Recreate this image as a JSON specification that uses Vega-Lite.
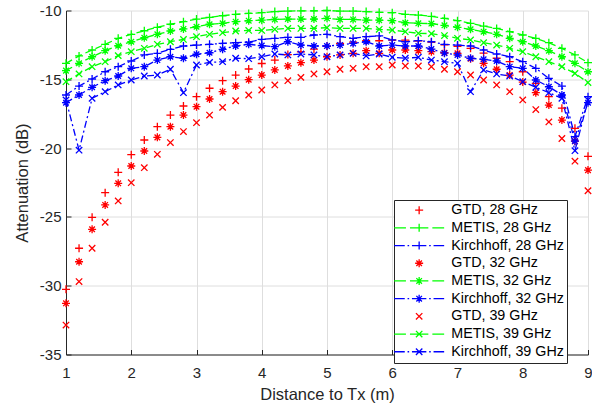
{
  "$schema": "https://vega.github.io/schema/vega-lite/v6.json",
  "width": 522,
  "height": 344,
  "autosize": {"type": "none"},
  "padding": {"left": 66, "top": 10.5, "right": 4, "bottom": 50.5},
  "background": "white",
  "config": {
    "view": {"stroke": null},
    "font": "Liberation Sans",
    "axis": {
      "grid": true,
      "gridColor": "#dedede",
      "gridWidth": 1,
      "domainColor": "#262626",
      "domainWidth": 1,
      "tickColor": "#262626",
      "tickSize": -5,
      "tickWidth": 1,
      "labelFlush": false,
      "labelFont": "Liberation Sans",
      "labelFontSize": 15,
      "labelColor": "#262626",
      "titleFont": "Liberation Sans",
      "titleFontSize": 16.5,
      "titleFontWeight": "normal",
      "titleColor": "#262626"
    }
  },
  "data": {
    "values": [
      {"s":"GTD, 28 GHz","d":1,"a":-30.26},{"s":"GTD, 28 GHz","d":1.2,"a":-27.28},{"s":"GTD, 28 GHz","d":1.4,"a":-25.03},{"s":"GTD, 28 GHz","d":1.6,"a":-23.24},{"s":"GTD, 28 GHz","d":1.8,"a":-21.76},{"s":"GTD, 28 GHz","d":2,"a":-20.48},{"s":"GTD, 28 GHz","d":2.2,"a":-19.41},{"s":"GTD, 28 GHz","d":2.4,"a":-18.44},{"s":"GTD, 28 GHz","d":2.6,"a":-17.6},{"s":"GTD, 28 GHz","d":2.8,"a":-16.94},{"s":"GTD, 28 GHz","d":3,"a":-16.26},{"s":"GTD, 28 GHz","d":3.2,"a":-15.65},{"s":"GTD, 28 GHz","d":3.4,"a":-15.1},{"s":"GTD, 28 GHz","d":3.6,"a":-14.69},{"s":"GTD, 28 GHz","d":3.8,"a":-14.25},{"s":"GTD, 28 GHz","d":4,"a":-13.85},{"s":"GTD, 28 GHz","d":4.2,"a":-13.6},{"s":"GTD, 28 GHz","d":4.4,"a":-13.2},{"s":"GTD, 28 GHz","d":4.6,"a":-13.0},{"s":"GTD, 28 GHz","d":4.8,"a":-12.8},{"s":"GTD, 28 GHz","d":5,"a":-12.6},{"s":"GTD, 28 GHz","d":5.2,"a":-12.4},{"s":"GTD, 28 GHz","d":5.4,"a":-12.3},{"s":"GTD, 28 GHz","d":5.6,"a":-12.2},{"s":"GTD, 28 GHz","d":5.8,"a":-12.2},{"s":"GTD, 28 GHz","d":6,"a":-12.15},{"s":"GTD, 28 GHz","d":6.2,"a":-12.15},{"s":"GTD, 28 GHz","d":6.4,"a":-12.2},{"s":"GTD, 28 GHz","d":6.6,"a":-12.3},{"s":"GTD, 28 GHz","d":6.8,"a":-12.5},{"s":"GTD, 28 GHz","d":7,"a":-12.6},{"s":"GTD, 28 GHz","d":7.2,"a":-12.75},{"s":"GTD, 28 GHz","d":7.4,"a":-13.1},{"s":"GTD, 28 GHz","d":7.6,"a":-13.47},{"s":"GTD, 28 GHz","d":7.8,"a":-13.72},{"s":"GTD, 28 GHz","d":8,"a":-14.45},{"s":"GTD, 28 GHz","d":8.2,"a":-15.3},{"s":"GTD, 28 GHz","d":8.4,"a":-16.26},{"s":"GTD, 28 GHz","d":8.6,"a":-17.1},{"s":"GTD, 28 GHz","d":8.8,"a":-18.56},{"s":"GTD, 28 GHz","d":9,"a":-20.6},
      {"s":"METIS, 28 GHz","d":1,"a":-13.84},{"s":"METIS, 28 GHz","d":1.2,"a":-13.3},{"s":"METIS, 28 GHz","d":1.4,"a":-12.87},{"s":"METIS, 28 GHz","d":1.6,"a":-12.46},{"s":"METIS, 28 GHz","d":1.8,"a":-12.02},{"s":"METIS, 28 GHz","d":2,"a":-11.73},{"s":"METIS, 28 GHz","d":2.2,"a":-11.47},{"s":"METIS, 28 GHz","d":2.4,"a":-11.22},{"s":"METIS, 28 GHz","d":2.6,"a":-11.0},{"s":"METIS, 28 GHz","d":2.8,"a":-10.81},{"s":"METIS, 28 GHz","d":3,"a":-10.62},{"s":"METIS, 28 GHz","d":3.2,"a":-10.5},{"s":"METIS, 28 GHz","d":3.4,"a":-10.38},{"s":"METIS, 28 GHz","d":3.6,"a":-10.28},{"s":"METIS, 28 GHz","d":3.8,"a":-10.21},{"s":"METIS, 28 GHz","d":4,"a":-10.16},{"s":"METIS, 28 GHz","d":4.2,"a":-10.08},{"s":"METIS, 28 GHz","d":4.4,"a":-10.04},{"s":"METIS, 28 GHz","d":4.6,"a":-10.02},{"s":"METIS, 28 GHz","d":4.8,"a":-10.02},{"s":"METIS, 28 GHz","d":5,"a":-10.0},{"s":"METIS, 28 GHz","d":5.2,"a":-10.04},{"s":"METIS, 28 GHz","d":5.4,"a":-10.04},{"s":"METIS, 28 GHz","d":5.6,"a":-10.08},{"s":"METIS, 28 GHz","d":5.8,"a":-10.13},{"s":"METIS, 28 GHz","d":6,"a":-10.16},{"s":"METIS, 28 GHz","d":6.2,"a":-10.28},{"s":"METIS, 28 GHz","d":6.4,"a":-10.33},{"s":"METIS, 28 GHz","d":6.6,"a":-10.42},{"s":"METIS, 28 GHz","d":6.8,"a":-10.57},{"s":"METIS, 28 GHz","d":7,"a":-10.74},{"s":"METIS, 28 GHz","d":7.2,"a":-10.93},{"s":"METIS, 28 GHz","d":7.4,"a":-11.13},{"s":"METIS, 28 GHz","d":7.6,"a":-11.3},{"s":"METIS, 28 GHz","d":7.8,"a":-11.54},{"s":"METIS, 28 GHz","d":8,"a":-11.78},{"s":"METIS, 28 GHz","d":8.2,"a":-12.02},{"s":"METIS, 28 GHz","d":8.4,"a":-12.34},{"s":"METIS, 28 GHz","d":8.6,"a":-12.75},{"s":"METIS, 28 GHz","d":8.8,"a":-13.23},{"s":"METIS, 28 GHz","d":9,"a":-13.79},
      {"s":"Kirchhoff, 28 GHz","d":1,"a":-16.14},{"s":"Kirchhoff, 28 GHz","d":1.2,"a":-15.49},{"s":"Kirchhoff, 28 GHz","d":1.4,"a":-14.98},{"s":"Kirchhoff, 28 GHz","d":1.6,"a":-14.45},{"s":"Kirchhoff, 28 GHz","d":1.8,"a":-14.08},{"s":"Kirchhoff, 28 GHz","d":2,"a":-13.67},{"s":"Kirchhoff, 28 GHz","d":2.2,"a":-13.23},{"s":"Kirchhoff, 28 GHz","d":2.4,"a":-13.11},{"s":"Kirchhoff, 28 GHz","d":2.6,"a":-12.82},{"s":"Kirchhoff, 28 GHz","d":2.8,"a":-12.58},{"s":"Kirchhoff, 28 GHz","d":3,"a":-12.51},{"s":"Kirchhoff, 28 GHz","d":3.2,"a":-12.46},{"s":"Kirchhoff, 28 GHz","d":3.4,"a":-12.39},{"s":"Kirchhoff, 28 GHz","d":3.6,"a":-12.34},{"s":"Kirchhoff, 28 GHz","d":3.8,"a":-12.3},{"s":"Kirchhoff, 28 GHz","d":4,"a":-12.1},{"s":"Kirchhoff, 28 GHz","d":4.2,"a":-12.02},{"s":"Kirchhoff, 28 GHz","d":4.4,"a":-11.95},{"s":"Kirchhoff, 28 GHz","d":4.6,"a":-11.95},{"s":"Kirchhoff, 28 GHz","d":4.8,"a":-11.78},{"s":"Kirchhoff, 28 GHz","d":5,"a":-11.73},{"s":"Kirchhoff, 28 GHz","d":5.2,"a":-11.9},{"s":"Kirchhoff, 28 GHz","d":5.4,"a":-12.02},{"s":"Kirchhoff, 28 GHz","d":5.6,"a":-11.9},{"s":"Kirchhoff, 28 GHz","d":5.8,"a":-11.85},{"s":"Kirchhoff, 28 GHz","d":6,"a":-12.14},{"s":"Kirchhoff, 28 GHz","d":6.2,"a":-12.27},{"s":"Kirchhoff, 28 GHz","d":6.4,"a":-12.19},{"s":"Kirchhoff, 28 GHz","d":6.6,"a":-12.27},{"s":"Kirchhoff, 28 GHz","d":6.8,"a":-12.46},{"s":"Kirchhoff, 28 GHz","d":7,"a":-12.51},{"s":"Kirchhoff, 28 GHz","d":7.2,"a":-12.58},{"s":"Kirchhoff, 28 GHz","d":7.4,"a":-12.87},{"s":"Kirchhoff, 28 GHz","d":7.6,"a":-13.16},{"s":"Kirchhoff, 28 GHz","d":7.8,"a":-13.36},{"s":"Kirchhoff, 28 GHz","d":8,"a":-13.72},{"s":"Kirchhoff, 28 GHz","d":8.2,"a":-14.2},{"s":"Kirchhoff, 28 GHz","d":8.4,"a":-14.93},{"s":"Kirchhoff, 28 GHz","d":8.6,"a":-15.49},{"s":"Kirchhoff, 28 GHz","d":8.8,"a":-19.17},{"s":"Kirchhoff, 28 GHz","d":9,"a":-16.26},
      {"s":"GTD, 32 GHz","d":1,"a":-31.28},{"s":"GTD, 32 GHz","d":1.2,"a":-28.26},{"s":"GTD, 32 GHz","d":1.4,"a":-25.9},{"s":"GTD, 32 GHz","d":1.6,"a":-24.13},{"s":"GTD, 32 GHz","d":1.8,"a":-22.56},{"s":"GTD, 32 GHz","d":2,"a":-21.3},{"s":"GTD, 32 GHz","d":2.2,"a":-20.21},{"s":"GTD, 32 GHz","d":2.4,"a":-19.22},{"s":"GTD, 32 GHz","d":2.6,"a":-18.44},{"s":"GTD, 32 GHz","d":2.8,"a":-17.6},{"s":"GTD, 32 GHz","d":3,"a":-16.99},{"s":"GTD, 32 GHz","d":3.2,"a":-16.43},{"s":"GTD, 32 GHz","d":3.4,"a":-15.9},{"s":"GTD, 32 GHz","d":3.6,"a":-15.49},{"s":"GTD, 32 GHz","d":3.8,"a":-15.03},{"s":"GTD, 32 GHz","d":4,"a":-14.69},{"s":"GTD, 32 GHz","d":4.2,"a":-14.32},{"s":"GTD, 32 GHz","d":4.4,"a":-14.03},{"s":"GTD, 32 GHz","d":4.6,"a":-13.79},{"s":"GTD, 32 GHz","d":4.8,"a":-13.6},{"s":"GTD, 32 GHz","d":5,"a":-13.36},{"s":"GTD, 32 GHz","d":5.2,"a":-13.23},{"s":"GTD, 32 GHz","d":5.4,"a":-13.11},{"s":"GTD, 32 GHz","d":5.6,"a":-12.92},{"s":"GTD, 32 GHz","d":5.8,"a":-13.11},{"s":"GTD, 32 GHz","d":6,"a":-12.87},{"s":"GTD, 32 GHz","d":6.2,"a":-12.87},{"s":"GTD, 32 GHz","d":6.4,"a":-12.92},{"s":"GTD, 32 GHz","d":6.6,"a":-12.99},{"s":"GTD, 32 GHz","d":6.8,"a":-13.07},{"s":"GTD, 32 GHz","d":7,"a":-13.11},{"s":"GTD, 32 GHz","d":7.2,"a":-13.5},{"s":"GTD, 32 GHz","d":7.4,"a":-13.84},{"s":"GTD, 32 GHz","d":7.6,"a":-14.27},{"s":"GTD, 32 GHz","d":7.8,"a":-14.69},{"s":"GTD, 32 GHz","d":8,"a":-15.2},{"s":"GTD, 32 GHz","d":8.2,"a":-15.97},{"s":"GTD, 32 GHz","d":8.4,"a":-16.87},{"s":"GTD, 32 GHz","d":8.6,"a":-17.96},{"s":"GTD, 32 GHz","d":8.8,"a":-19.5},{"s":"GTD, 32 GHz","d":9,"a":-21.6},
      {"s":"METIS, 32 GHz","d":1,"a":-14.37},{"s":"METIS, 32 GHz","d":1.2,"a":-13.84},{"s":"METIS, 32 GHz","d":1.4,"a":-13.36},{"s":"METIS, 32 GHz","d":1.6,"a":-12.92},{"s":"METIS, 32 GHz","d":1.8,"a":-12.56},{"s":"METIS, 32 GHz","d":2,"a":-12.27},{"s":"METIS, 32 GHz","d":2.2,"a":-11.98},{"s":"METIS, 32 GHz","d":2.4,"a":-11.73},{"s":"METIS, 32 GHz","d":2.6,"a":-11.49},{"s":"METIS, 32 GHz","d":2.8,"a":-11.34},{"s":"METIS, 32 GHz","d":3,"a":-11.18},{"s":"METIS, 32 GHz","d":3.2,"a":-11.0},{"s":"METIS, 32 GHz","d":3.4,"a":-10.93},{"s":"METIS, 32 GHz","d":3.6,"a":-10.81},{"s":"METIS, 32 GHz","d":3.8,"a":-10.74},{"s":"METIS, 32 GHz","d":4,"a":-10.7},{"s":"METIS, 32 GHz","d":4.2,"a":-10.65},{"s":"METIS, 32 GHz","d":4.4,"a":-10.62},{"s":"METIS, 32 GHz","d":4.6,"a":-10.62},{"s":"METIS, 32 GHz","d":4.8,"a":-10.62},{"s":"METIS, 32 GHz","d":5,"a":-10.57},{"s":"METIS, 32 GHz","d":5.2,"a":-10.65},{"s":"METIS, 32 GHz","d":5.4,"a":-10.65},{"s":"METIS, 32 GHz","d":5.6,"a":-10.7},{"s":"METIS, 32 GHz","d":5.8,"a":-10.7},{"s":"METIS, 32 GHz","d":6,"a":-10.74},{"s":"METIS, 32 GHz","d":6.2,"a":-10.89},{"s":"METIS, 32 GHz","d":6.4,"a":-10.93},{"s":"METIS, 32 GHz","d":6.6,"a":-10.95},{"s":"METIS, 32 GHz","d":6.8,"a":-11.08},{"s":"METIS, 32 GHz","d":7,"a":-11.22},{"s":"METIS, 32 GHz","d":7.2,"a":-11.37},{"s":"METIS, 32 GHz","d":7.4,"a":-11.54},{"s":"METIS, 32 GHz","d":7.6,"a":-11.73},{"s":"METIS, 32 GHz","d":7.8,"a":-12.02},{"s":"METIS, 32 GHz","d":8,"a":-12.27},{"s":"METIS, 32 GHz","d":8.2,"a":-12.58},{"s":"METIS, 32 GHz","d":8.4,"a":-12.92},{"s":"METIS, 32 GHz","d":8.6,"a":-13.36},{"s":"METIS, 32 GHz","d":8.8,"a":-13.84},{"s":"METIS, 32 GHz","d":9,"a":-14.45},
      {"s":"Kirchhoff, 32 GHz","d":1,"a":-16.7},{"s":"Kirchhoff, 32 GHz","d":1.2,"a":-16.14},{"s":"Kirchhoff, 32 GHz","d":1.4,"a":-15.58},{"s":"Kirchhoff, 32 GHz","d":1.6,"a":-15.1},{"s":"Kirchhoff, 32 GHz","d":1.8,"a":-14.76},{"s":"Kirchhoff, 32 GHz","d":2,"a":-14.2},{"s":"Kirchhoff, 32 GHz","d":2.2,"a":-14.08},{"s":"Kirchhoff, 32 GHz","d":2.4,"a":-13.6},{"s":"Kirchhoff, 32 GHz","d":2.6,"a":-13.36},{"s":"Kirchhoff, 32 GHz","d":2.8,"a":-13.47},{"s":"Kirchhoff, 32 GHz","d":3,"a":-13.18},{"s":"Kirchhoff, 32 GHz","d":3.2,"a":-13.07},{"s":"Kirchhoff, 32 GHz","d":3.4,"a":-12.82},{"s":"Kirchhoff, 32 GHz","d":3.6,"a":-12.58},{"s":"Kirchhoff, 32 GHz","d":3.8,"a":-12.46},{"s":"Kirchhoff, 32 GHz","d":4,"a":-12.55},{"s":"Kirchhoff, 32 GHz","d":4.2,"a":-12.63},{"s":"Kirchhoff, 32 GHz","d":4.4,"a":-12.27},{"s":"Kirchhoff, 32 GHz","d":4.6,"a":-12.51},{"s":"Kirchhoff, 32 GHz","d":4.8,"a":-12.58},{"s":"Kirchhoff, 32 GHz","d":5,"a":-12.58},{"s":"Kirchhoff, 32 GHz","d":5.2,"a":-12.51},{"s":"Kirchhoff, 32 GHz","d":5.4,"a":-12.39},{"s":"Kirchhoff, 32 GHz","d":5.6,"a":-12.27},{"s":"Kirchhoff, 32 GHz","d":5.8,"a":-12.58},{"s":"Kirchhoff, 32 GHz","d":6,"a":-12.51},{"s":"Kirchhoff, 32 GHz","d":6.2,"a":-12.58},{"s":"Kirchhoff, 32 GHz","d":6.4,"a":-12.58},{"s":"Kirchhoff, 32 GHz","d":6.6,"a":-12.8},{"s":"Kirchhoff, 32 GHz","d":6.8,"a":-13.1},{"s":"Kirchhoff, 32 GHz","d":7,"a":-13.23},{"s":"Kirchhoff, 32 GHz","d":7.2,"a":-13.47},{"s":"Kirchhoff, 32 GHz","d":7.4,"a":-13.55},{"s":"Kirchhoff, 32 GHz","d":7.6,"a":-13.67},{"s":"Kirchhoff, 32 GHz","d":7.8,"a":-14.08},{"s":"Kirchhoff, 32 GHz","d":8,"a":-14.2},{"s":"Kirchhoff, 32 GHz","d":8.2,"a":-15.05},{"s":"Kirchhoff, 32 GHz","d":8.4,"a":-15.54},{"s":"Kirchhoff, 32 GHz","d":8.6,"a":-16.14},{"s":"Kirchhoff, 32 GHz","d":8.8,"a":-19.5},{"s":"Kirchhoff, 32 GHz","d":9,"a":-16.7},
      {"s":"GTD, 39 GHz","d":1,"a":-32.86},{"s":"GTD, 39 GHz","d":1.2,"a":-29.7},{"s":"GTD, 39 GHz","d":1.4,"a":-27.28},{"s":"GTD, 39 GHz","d":1.6,"a":-25.39},{"s":"GTD, 39 GHz","d":1.8,"a":-23.84},{"s":"GTD, 39 GHz","d":2,"a":-22.51},{"s":"GTD, 39 GHz","d":2.2,"a":-21.42},{"s":"GTD, 39 GHz","d":2.4,"a":-20.45},{"s":"GTD, 39 GHz","d":2.6,"a":-19.6},{"s":"GTD, 39 GHz","d":2.8,"a":-18.8},{"s":"GTD, 39 GHz","d":3,"a":-18.15},{"s":"GTD, 39 GHz","d":3.2,"a":-17.6},{"s":"GTD, 39 GHz","d":3.4,"a":-17.04},{"s":"GTD, 39 GHz","d":3.6,"a":-16.56},{"s":"GTD, 39 GHz","d":3.8,"a":-16.14},{"s":"GTD, 39 GHz","d":4,"a":-15.78},{"s":"GTD, 39 GHz","d":4.2,"a":-15.41},{"s":"GTD, 39 GHz","d":4.4,"a":-15.1},{"s":"GTD, 39 GHz","d":4.6,"a":-14.86},{"s":"GTD, 39 GHz","d":4.8,"a":-14.61},{"s":"GTD, 39 GHz","d":5,"a":-14.45},{"s":"GTD, 39 GHz","d":5.2,"a":-14.27},{"s":"GTD, 39 GHz","d":5.4,"a":-14.2},{"s":"GTD, 39 GHz","d":5.6,"a":-14.08},{"s":"GTD, 39 GHz","d":5.8,"a":-14.08},{"s":"GTD, 39 GHz","d":6,"a":-13.96},{"s":"GTD, 39 GHz","d":6.2,"a":-14.03},{"s":"GTD, 39 GHz","d":6.4,"a":-14.03},{"s":"GTD, 39 GHz","d":6.6,"a":-14.08},{"s":"GTD, 39 GHz","d":6.8,"a":-14.27},{"s":"GTD, 39 GHz","d":7,"a":-14.45},{"s":"GTD, 39 GHz","d":7.2,"a":-14.69},{"s":"GTD, 39 GHz","d":7.4,"a":-15.05},{"s":"GTD, 39 GHz","d":7.6,"a":-15.41},{"s":"GTD, 39 GHz","d":7.8,"a":-15.9},{"s":"GTD, 39 GHz","d":8,"a":-16.5},{"s":"GTD, 39 GHz","d":8.2,"a":-17.2},{"s":"GTD, 39 GHz","d":8.4,"a":-18.1},{"s":"GTD, 39 GHz","d":8.6,"a":-19.3},{"s":"GTD, 39 GHz","d":8.8,"a":-20.95},{"s":"GTD, 39 GHz","d":9,"a":-23.1},
      {"s":"METIS, 39 GHz","d":1,"a":-15.17},{"s":"METIS, 39 GHz","d":1.2,"a":-14.61},{"s":"METIS, 39 GHz","d":1.4,"a":-14.08},{"s":"METIS, 39 GHz","d":1.6,"a":-13.72},{"s":"METIS, 39 GHz","d":1.8,"a":-13.28},{"s":"METIS, 39 GHz","d":2,"a":-12.99},{"s":"METIS, 39 GHz","d":2.2,"a":-12.75},{"s":"METIS, 39 GHz","d":2.4,"a":-12.46},{"s":"METIS, 39 GHz","d":2.6,"a":-12.27},{"s":"METIS, 39 GHz","d":2.8,"a":-12.1},{"s":"METIS, 39 GHz","d":3,"a":-11.9},{"s":"METIS, 39 GHz","d":3.2,"a":-11.73},{"s":"METIS, 39 GHz","d":3.4,"a":-11.61},{"s":"METIS, 39 GHz","d":3.6,"a":-11.49},{"s":"METIS, 39 GHz","d":3.8,"a":-11.45},{"s":"METIS, 39 GHz","d":4,"a":-11.45},{"s":"METIS, 39 GHz","d":4.2,"a":-11.37},{"s":"METIS, 39 GHz","d":4.4,"a":-11.3},{"s":"METIS, 39 GHz","d":4.6,"a":-11.3},{"s":"METIS, 39 GHz","d":4.8,"a":-11.3},{"s":"METIS, 39 GHz","d":5,"a":-11.25},{"s":"METIS, 39 GHz","d":5.2,"a":-11.3},{"s":"METIS, 39 GHz","d":5.4,"a":-11.3},{"s":"METIS, 39 GHz","d":5.6,"a":-11.3},{"s":"METIS, 39 GHz","d":5.8,"a":-11.37},{"s":"METIS, 39 GHz","d":6,"a":-11.42},{"s":"METIS, 39 GHz","d":6.2,"a":-11.54},{"s":"METIS, 39 GHz","d":6.4,"a":-11.66},{"s":"METIS, 39 GHz","d":6.6,"a":-11.68},{"s":"METIS, 39 GHz","d":6.8,"a":-11.82},{"s":"METIS, 39 GHz","d":7,"a":-12.02},{"s":"METIS, 39 GHz","d":7.2,"a":-12.14},{"s":"METIS, 39 GHz","d":7.4,"a":-12.34},{"s":"METIS, 39 GHz","d":7.6,"a":-12.51},{"s":"METIS, 39 GHz","d":7.8,"a":-12.75},{"s":"METIS, 39 GHz","d":8,"a":-12.99},{"s":"METIS, 39 GHz","d":8.2,"a":-13.36},{"s":"METIS, 39 GHz","d":8.4,"a":-13.72},{"s":"METIS, 39 GHz","d":8.6,"a":-14.08},{"s":"METIS, 39 GHz","d":8.8,"a":-14.57},{"s":"METIS, 39 GHz","d":9,"a":-15.24},
      {"s":"Kirchhoff, 39 GHz","d":1,"a":-16.5},{"s":"Kirchhoff, 39 GHz","d":1.2,"a":-20.15},{"s":"Kirchhoff, 39 GHz","d":1.4,"a":-16.38},{"s":"Kirchhoff, 39 GHz","d":1.6,"a":-15.9},{"s":"Kirchhoff, 39 GHz","d":1.8,"a":-15.41},{"s":"Kirchhoff, 39 GHz","d":2,"a":-15.05},{"s":"Kirchhoff, 39 GHz","d":2.2,"a":-14.76},{"s":"Kirchhoff, 39 GHz","d":2.4,"a":-14.69},{"s":"Kirchhoff, 39 GHz","d":2.6,"a":-14.27},{"s":"Kirchhoff, 39 GHz","d":2.8,"a":-15.97},{"s":"Kirchhoff, 39 GHz","d":3,"a":-13.96},{"s":"Kirchhoff, 39 GHz","d":3.2,"a":-13.77},{"s":"Kirchhoff, 39 GHz","d":3.4,"a":-13.72},{"s":"Kirchhoff, 39 GHz","d":3.6,"a":-13.47},{"s":"Kirchhoff, 39 GHz","d":3.8,"a":-13.5},{"s":"Kirchhoff, 39 GHz","d":4,"a":-13.36},{"s":"Kirchhoff, 39 GHz","d":4.2,"a":-13.16},{"s":"Kirchhoff, 39 GHz","d":4.4,"a":-13.23},{"s":"Kirchhoff, 39 GHz","d":4.6,"a":-13.16},{"s":"Kirchhoff, 39 GHz","d":4.8,"a":-13.23},{"s":"Kirchhoff, 39 GHz","d":5,"a":-13.36},{"s":"Kirchhoff, 39 GHz","d":5.2,"a":-13.23},{"s":"Kirchhoff, 39 GHz","d":5.4,"a":-13.11},{"s":"Kirchhoff, 39 GHz","d":5.6,"a":-13.3},{"s":"Kirchhoff, 39 GHz","d":5.8,"a":-13.16},{"s":"Kirchhoff, 39 GHz","d":6,"a":-13.4},{"s":"Kirchhoff, 39 GHz","d":6.2,"a":-13.47},{"s":"Kirchhoff, 39 GHz","d":6.4,"a":-13.4},{"s":"Kirchhoff, 39 GHz","d":6.6,"a":-13.6},{"s":"Kirchhoff, 39 GHz","d":6.8,"a":-13.72},{"s":"Kirchhoff, 39 GHz","d":7,"a":-13.84},{"s":"Kirchhoff, 39 GHz","d":7.2,"a":-15.9},{"s":"Kirchhoff, 39 GHz","d":7.4,"a":-14.32},{"s":"Kirchhoff, 39 GHz","d":7.6,"a":-14.61},{"s":"Kirchhoff, 39 GHz","d":7.8,"a":-14.76},{"s":"Kirchhoff, 39 GHz","d":8,"a":-15.17},{"s":"Kirchhoff, 39 GHz","d":8.2,"a":-15.58},{"s":"Kirchhoff, 39 GHz","d":8.4,"a":-15.97},{"s":"Kirchhoff, 39 GHz","d":8.6,"a":-16.38},{"s":"Kirchhoff, 39 GHz","d":8.8,"a":-20.19},{"s":"Kirchhoff, 39 GHz","d":9,"a":-16.5}
    ]
  },
  "layer": [
    {
      "transform": [{"filter": "indexof(datum.s, 'GTD') < 0"}],
      "mark": {"type": "line", "strokeWidth": 1.3},
      "encoding": {
        "x": {"field": "d", "type": "quantitative", "scale": {"domain": [1, 9], "nice": false, "zero": false},
              "axis": {"values": [1, 2, 3, 4, 5, 6, 7, 8, 9], "format": "d", "title": "Distance to Tx (m)", "labelPadding": 16, "titlePadding": 6}},
        "y": {"field": "a", "type": "quantitative", "scale": {"domain": [-35, -10], "nice": false, "zero": false},
              "axis": {"values": [-35, -30, -25, -20, -15, -10], "title": "Attenuation (dB)", "labelPadding": 10, "titlePadding": 9,
                       "labelExpr": "datum.value < 0 ? '-' + abs(datum.value) : '' + datum.value"}},
        "color": {"field": "s", "type": "nominal", "legend": null,
                  "scale": {"domain": ["METIS, 28 GHz", "Kirchhoff, 28 GHz", "METIS, 32 GHz", "Kirchhoff, 32 GHz", "METIS, 39 GHz", "Kirchhoff, 39 GHz"],
                            "range": ["#00ff00", "#0000ff", "#00ff00", "#0000ff", "#00ff00", "#0000ff"]}},
        "strokeDash": {"field": "s", "type": "nominal", "legend": null,
                       "scale": {"domain": ["METIS, 28 GHz", "Kirchhoff, 28 GHz", "METIS, 32 GHz", "Kirchhoff, 32 GHz", "METIS, 39 GHz", "Kirchhoff, 39 GHz"],
                                 "range": [[7, 4], [7, 3, 2, 3], [7, 4], [7, 3, 2, 3], [7, 4], [7, 3, 2, 3]]}}
      }
    },
    {
      "mark": {"type": "point", "filled": false, "strokeWidth": 1.3, "size": 64, "opacity": 1},
      "encoding": {
        "x": {"field": "d", "type": "quantitative"},
        "y": {"field": "a", "type": "quantitative"},
        "color": {"field": "s", "type": "nominal", "legend": null,
                  "scale": {"domain": ["GTD, 28 GHz", "METIS, 28 GHz", "Kirchhoff, 28 GHz", "GTD, 32 GHz", "METIS, 32 GHz", "Kirchhoff, 32 GHz", "GTD, 39 GHz", "METIS, 39 GHz", "Kirchhoff, 39 GHz"],
                            "range": ["#ff0000", "#00ff00", "#0000ff", "#ff0000", "#00ff00", "#0000ff", "#ff0000", "#00ff00", "#0000ff"]}},
        "shape": {"field": "s", "type": "nominal", "legend": null,
                  "scale": {"domain": ["GTD, 28 GHz", "METIS, 28 GHz", "Kirchhoff, 28 GHz", "GTD, 32 GHz", "METIS, 32 GHz", "Kirchhoff, 32 GHz", "GTD, 39 GHz", "METIS, 39 GHz", "Kirchhoff, 39 GHz"],
                            "range": [
                              "M-1,0H1M0,-1V1", "M-1,0H1M0,-1V1", "M-1,0H1M0,-1V1",
                              "M-1,0H1M0,-1V1M-0.7,-0.7L0.7,0.7M-0.7,0.7L0.7,-0.7", "M-1,0H1M0,-1V1M-0.7,-0.7L0.7,0.7M-0.7,0.7L0.7,-0.7", "M-1,0H1M0,-1V1M-0.7,-0.7L0.7,0.7M-0.7,0.7L0.7,-0.7",
                              "M-0.8,-0.8L0.8,0.8M-0.8,0.8L0.8,-0.8", "M-0.8,-0.8L0.8,0.8M-0.8,0.8L0.8,-0.8", "M-0.8,-0.8L0.8,0.8M-0.8,0.8L0.8,-0.8"
                            ]}}
      }
    },
    {
      "transform": [{"filter": "false"}],
      "mark": {"type": "point", "filled": false, "strokeWidth": 1.3, "size": 64, "opacity": 1},
      "encoding": {
        "color": {"field": "s", "type": "nominal",
                  "scale": {"domain": ["GTD, 28 GHz", "METIS, 28 GHz", "Kirchhoff, 28 GHz", "GTD, 32 GHz", "METIS, 32 GHz", "Kirchhoff, 32 GHz", "GTD, 39 GHz", "METIS, 39 GHz", "Kirchhoff, 39 GHz"],
                            "range": ["#ff0000", "#00ff00", "#0000ff", "#ff0000", "#00ff00", "#0000ff", "#ff0000", "#00ff00", "#0000ff"]},
                  "legend": {"title": null, "orient": "none", "legendX": 328, "legendY": 189.5, "fillColor": "white", "strokeColor": "#262626",
                             "padding": 3, "labelFont": "Liberation Sans", "labelFontSize": 14.3, "labelColor": "#000000", "labelLimit": 0,
                             "symbolOffset": 15, "labelOffset": 25, "rowPadding": 2.7, "symbolStrokeWidth": 1.3, "symbolSize": 64}},
        "shape": {"field": "s", "type": "nominal",
                  "scale": {"domain": ["GTD, 28 GHz", "METIS, 28 GHz", "Kirchhoff, 28 GHz", "GTD, 32 GHz", "METIS, 32 GHz", "Kirchhoff, 32 GHz", "GTD, 39 GHz", "METIS, 39 GHz", "Kirchhoff, 39 GHz"],
                            "range": [
                              "M-1,0H1M0,-1V1",
                              "M-6.25,0H-3.3M-2.3,0H2.3M3.3,0H6.25M0,-1V1",
                              "M-6.25,0H-3.6M-2.9,0H-2.5M-1.8,0H1.8M2.5,0H2.9M3.6,0H6.25M0,-1V1",
                              "M-1,0H1M0,-1V1M-0.7,-0.7L0.7,0.7M-0.7,0.7L0.7,-0.7",
                              "M-6.25,0H-3.3M-2.3,0H2.3M3.3,0H6.25M0,-1V1M-0.7,-0.7L0.7,0.7M-0.7,0.7L0.7,-0.7",
                              "M-6.25,0H-3.6M-2.9,0H-2.5M-1.8,0H1.8M2.5,0H2.9M3.6,0H6.25M0,-1V1M-0.7,-0.7L0.7,0.7M-0.7,0.7L0.7,-0.7",
                              "M-0.8,-0.8L0.8,0.8M-0.8,0.8L0.8,-0.8",
                              "M-6.25,0H-3.3M-2.3,0H2.3M3.3,0H6.25M-0.8,-0.8L0.8,0.8M-0.8,0.8L0.8,-0.8",
                              "M-6.25,0H-3.6M-2.9,0H-2.5M-1.8,0H1.8M2.5,0H2.9M3.6,0H6.25M-0.8,-0.8L0.8,0.8M-0.8,0.8L0.8,-0.8"
                            ]}}
      }
    }
  ],
  "resolve": {"scale": {"color": "independent", "shape": "independent", "strokeDash": "independent"}}
}
